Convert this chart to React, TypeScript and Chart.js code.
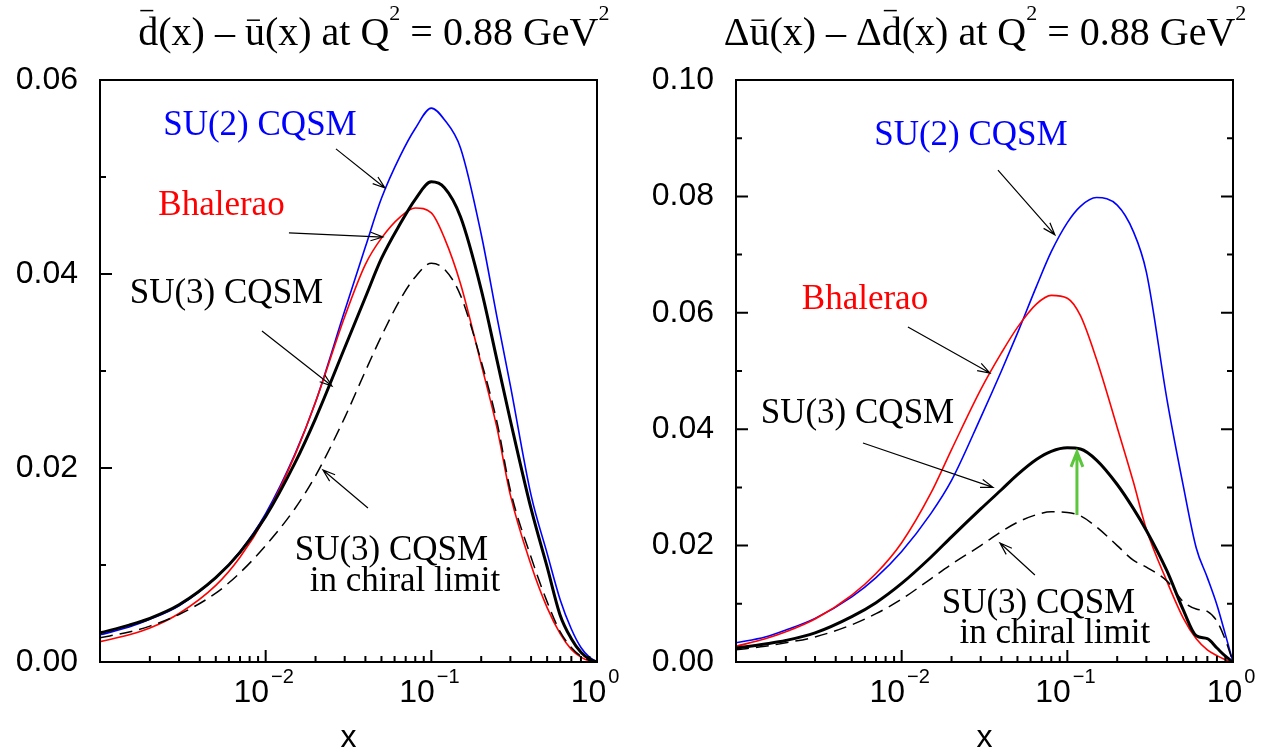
import React, { useEffect, useRef } from "react";
import { Chart, registerables } from "chart.js";

Chart.register(...registerables);

const SERIF = '"Liberation Serif", "Times New Roman", Times, serif';
const SANS = '"Liberation Sans", Arial, Helvetica, sans-serif';

// ---------- shared x grid ----------
const xValues = [
  0.001, 0.0015, 0.002, 0.003, 0.005, 0.007, 0.01, 0.015, 0.02, 0.03, 0.04, 0.05, 0.065,
  0.08, 0.1, 0.12, 0.15, 0.2, 0.25, 0.3, 0.4, 0.5, 0.6, 0.7, 0.8, 0.9, 1.0,
];

// ---------- left panel: dbar(x) - ubar(x) ----------
const leftSU2 = [
  0.0028, 0.0036, 0.0044, 0.0058, 0.0087, 0.0114, 0.0153, 0.0214, 0.0268, 0.0362, 0.0428, 0.0478, 0.0522,
  0.055, 0.0571, 0.0559, 0.053, 0.0441, 0.0354, 0.0285, 0.0172, 0.0112, 0.0064, 0.0034, 0.0015, 0.0005, 0,
];
const leftBhalerao = [
  0.0021, 0.0028, 0.0035, 0.005, 0.0079, 0.0108, 0.015, 0.0213, 0.0268, 0.0356, 0.041, 0.0437, 0.0459,
  0.0468, 0.0463, 0.0437, 0.039, 0.0307, 0.024, 0.0172, 0.01, 0.0056, 0.0029, 0.0013, 0.0005, 0.0001, 0,
];
const leftSU3 = [
  0.003, 0.0038, 0.0045, 0.0059, 0.0087, 0.0113, 0.015, 0.0205, 0.0251, 0.0324, 0.0376, 0.0416, 0.0452,
  0.0477, 0.0495, 0.0489, 0.0459, 0.0384, 0.031, 0.0249, 0.0158, 0.0098, 0.0048, 0.0024, 0.001, 0.0003, 0,
];
const leftSU3Chiral = [
  0.0025, 0.0031, 0.0037, 0.0049, 0.0071, 0.0092, 0.012, 0.0158, 0.0192, 0.0252, 0.03, 0.0336, 0.0374,
  0.0397, 0.0411, 0.0405, 0.0378, 0.031, 0.0246, 0.0177, 0.0108, 0.0062, 0.0031, 0.0015, 0.0006, 0.0002, 0,
];
const leftYTicks = [0, 0.02, 0.04, 0.06];

// ---------- right panel: Delta ubar(x) - Delta dbar(x) ----------
const rightSU2 = [
  0.0033, 0.0043, 0.0055, 0.0075, 0.0112, 0.0145, 0.019, 0.0255, 0.0312, 0.042, 0.05, 0.0565, 0.0645,
  0.0705, 0.0755, 0.0783, 0.0798, 0.0785, 0.074, 0.067, 0.045, 0.0304, 0.0196, 0.0145, 0.0098, 0.0047, 0,
];
const rightBhalerao = [
  0.0027, 0.004, 0.0052, 0.0074, 0.0115, 0.0152, 0.0205, 0.029, 0.0365, 0.0468, 0.0531, 0.0575, 0.0615,
  0.063, 0.0625, 0.0595, 0.052, 0.0403, 0.031, 0.0228, 0.0138, 0.0076, 0.004, 0.0021, 0.0011, 0.0004, 0,
];
const rightSU3 = [
  0.0024, 0.0031, 0.0037, 0.005, 0.0078, 0.0102, 0.0135, 0.018, 0.0215, 0.0263, 0.0296, 0.0322, 0.0348,
  0.0362, 0.0368, 0.0366, 0.0347, 0.0305, 0.0264, 0.0226, 0.0156, 0.009, 0.0045, 0.004, 0.0024, 0.001, 0,
];
const rightSU3Chiral = [
  0.0021, 0.0027, 0.0033, 0.0043, 0.0064, 0.0083, 0.0108, 0.0143, 0.0168, 0.02, 0.0224, 0.024, 0.0253,
  0.0258, 0.0257, 0.0251, 0.0232, 0.02, 0.0175, 0.0163, 0.0139, 0.0104, 0.0091, 0.0087, 0.007, 0.0038, 0,
];
const rightYTicks = [0, 0.02, 0.04, 0.06, 0.08, 0.1];

// ---------- x tick labels ----------
const xLabelValues = [0.01, 0.1, 1];
const xLabelExponents = ["\u22122", "\u22121", "0"];

// ---------- titles ----------
type Piece = { t: string; sup?: boolean; bar?: boolean };
const leftTitle: Piece[] = [
  { t: "d", bar: true },
  { t: "(x) \u2013 " },
  { t: "u", bar: true },
  { t: "(x) at Q" },
  { t: "2", sup: true },
  { t: " = 0.88 GeV" },
  { t: "2", sup: true },
];
const rightTitle: Piece[] = [
  { t: "\u0394" },
  { t: "u", bar: true },
  { t: "(x) \u2013 \u0394" },
  { t: "d", bar: true },
  { t: "(x) at Q" },
  { t: "2", sup: true },
  { t: " = 0.88 GeV" },
  { t: "2", sup: true },
];

// ---------- annotations (data coordinates) ----------
type Label = { text: string; color: string; x: number; y: number };
type Arrow = { from: [number, number]; to: [number, number]; color: string; width: number };

const leftLabels: Label[] = [
  { text: "SU(2) CQSM", color: "#0000ff", x: 0.00924, y: 0.0543 },
  { text: "Bhalerao", color: "#ff0000", x: 0.00541, y: 0.0461 },
  { text: "SU(3) CQSM", color: "#000000", x: 0.0058, y: 0.037 },
  { text: "SU(3) CQSM", color: "#000000", x: 0.05743, y: 0.01052 },
  { text: "in chiral limit", color: "#000000", x: 0.06931, y: 0.00732 },
];
const leftArrows: Arrow[] = [
  { from: [0.02656, 0.0529], to: [0.05248, 0.04887], color: "#000", width: 1.2 },
  { from: [0.01382, 0.04423], to: [0.05103, 0.04381], color: "#000", width: 1.2 },
  { from: [0.0095, 0.03412], to: [0.02513, 0.02845], color: "#000", width: 1.2 },
  { from: [0.04144, 0.01588], to: [0.02217, 0.01979], color: "#000", width: 1.2 },
];
const rightLabels: Label[] = [
  { text: "SU(2) CQSM", color: "#0000ff", x: 0.02619, y: 0.0888 },
  { text: "Bhalerao", color: "#ff0000", x: 0.006006, y: 0.0607 },
  { text: "SU(3) CQSM", color: "#000000", x: 0.00541, y: 0.04107 },
  { text: "SU(3) CQSM", color: "#000000", x: 0.06695, y: 0.00842 },
  { text: "in chiral limit", color: "#000000", x: 0.0841, y: 0.00326 },
];
const rightArrows: Arrow[] = [
  { from: [0.03813, 0.0845], to: [0.0841, 0.0734], color: "#000", width: 1.2 },
  { from: [0.01091, 0.05756], to: [0.0341, 0.04966], color: "#000", width: 1.2 },
  { from: [0.00584, 0.03763], to: [0.0356, 0.03], color: "#000", width: 1.2 },
  { from: [0.0637, 0.01495], to: [0.0392, 0.02045], color: "#000", width: 1.2 },
  { from: [0.1143, 0.02526], to: [0.1143, 0.03608], color: "#5cc63c", width: 3 },
];

type PanelCfg = {
  su2: number[];
  bhalerao: number[];
  su3: number[];
  su3chiral: number[];
  yTicks: number[];
  yMax: number;
  title: Piece[];
  titleFrac: number;
  rightTicks: boolean;
  labels: Label[];
  arrows: Arrow[];
  axisWidth: number;
  padRight: number;
};

function drawArrow(ctx: CanvasRenderingContext2D, x1: number, y1: number, x2: number, y2: number, color: string, width: number) {
  const ang = Math.atan2(y2 - y1, x2 - x1);
  const head = width > 2 ? 16 : 13;
  const spread = width > 2 ? 0.38 : 0.33;
  ctx.save();
  ctx.strokeStyle = color;
  ctx.lineWidth = width;
  ctx.lineCap = "butt";
  ctx.beginPath();
  ctx.moveTo(x1, y1);
  ctx.lineTo(x2, y2);
  ctx.moveTo(x2 - head * Math.cos(ang - spread), y2 - head * Math.sin(ang - spread));
  ctx.lineTo(x2, y2);
  ctx.lineTo(x2 - head * Math.cos(ang + spread), y2 - head * Math.sin(ang + spread));
  ctx.stroke();
  ctx.restore();
}

function drawTitle(ctx: CanvasRenderingContext2D, pieces: Piece[], cx: number, baseline: number, size: number) {
  const supSize = Math.round(size * 0.55);
  const fonts = pieces.map((p) => `${p.sup ? supSize : size}px ${SERIF}`);
  const widths = pieces.map((p, i) => {
    ctx.font = fonts[i];
    return ctx.measureText(p.t).width;
  });
  const total = widths.reduce((a, b) => a + b, 0);
  let x = cx - total / 2;
  ctx.save();
  ctx.fillStyle = "#000";
  ctx.textAlign = "left";
  ctx.textBaseline = "alphabetic";
  pieces.forEach((p, i) => {
    ctx.font = fonts[i];
    const y = p.sup ? baseline - size * 0.62 : baseline;
    ctx.fillText(p.t, x, y);
    if (p.bar) {
      const tall = p.t === "d";
      const by = baseline - (tall ? size * 0.86 : size * 0.62);
      ctx.strokeStyle = "#000";
      ctx.lineWidth = 1.5;
      ctx.beginPath();
      ctx.moveTo(x + widths[i] * 0.1, by);
      ctx.lineTo(x + widths[i] * 0.75, by);
      ctx.stroke();
    }
    x += widths[i];
  });
  ctx.restore();
}

function makeDecor(cfg: PanelCfg) {
  return {
    id: "decor",
    afterDraw(chart: any) {
      const ctx: CanvasRenderingContext2D = chart.ctx;
      const { left, right, top, bottom } = chart.chartArea;
      const xs = chart.scales.x;
      const ys = chart.scales.y;
      ctx.save();
      // frame
      ctx.strokeStyle = "#000";
      ctx.lineWidth = 2;
      ctx.strokeRect(left, top, right - left, bottom - top);

      // y ticks (minor every half major step)
      const majorStep = cfg.yTicks[1] - cfg.yTicks[0];
      const n = Math.round(cfg.yMax / (majorStep / 2));
      ctx.lineWidth = 2;
      ctx.beginPath();
      for (let i = 1; i < n; i++) {
        const v = (i * majorStep) / 2;
        const y = ys.getPixelForValue(v);
        const len = i % 2 === 0 ? 12 : 6;
        ctx.moveTo(left, y);
        ctx.lineTo(left + len, y);
        if (cfg.rightTicks) {
          ctx.moveTo(right, y);
          ctx.lineTo(right - len, y);
        }
      }
      // x ticks (log)
      for (let d = -3; d < 0; d++) {
        for (let k = 1; k <= 9; k++) {
          const v = k * Math.pow(10, d);
          if (v <= 0.001 + 1e-12) continue;
          const x = xs.getPixelForValue(v);
          const len = k === 1 ? 12 : 6;
          ctx.moveTo(x, bottom);
          ctx.lineTo(x, bottom - len);
        }
      }
      ctx.stroke();

      // x tick labels 10^n
      ctx.fillStyle = "#000";
      ctx.textBaseline = "alphabetic";
      xLabelValues.forEach((v, i) => {
        const x = xs.getPixelForValue(v);
        ctx.font = `32px ${SANS}`;
        const w1 = ctx.measureText("10").width;
        ctx.font = `20px ${SANS}`;
        const w2 = ctx.measureText(xLabelExponents[i]).width;
        const start = x - (w1 + w2 + 2) / 2 - 2;
        ctx.font = `32px ${SANS}`;
        ctx.textAlign = "left";
        ctx.fillText("10", start, bottom + 40);
        ctx.font = `20px ${SANS}`;
        ctx.fillText(xLabelExponents[i], start + w1 + 2, bottom + 21);
      });

      // axis title "x"
      ctx.font = `32px ${SANS}`;
      ctx.textAlign = "center";
      ctx.fillText("x", (left + right) / 2, bottom + 85);

      // title
      drawTitle(ctx, cfg.title, left + (right - left) * cfg.titleFrac, top - 35, 40);

      // labels
      ctx.font = `35px ${SERIF}`;
      ctx.textAlign = "center";
      cfg.labels.forEach((l) => {
        ctx.fillStyle = l.color;
        ctx.fillText(l.text, xs.getPixelForValue(l.x), ys.getPixelForValue(l.y));
      });
      // arrows
      cfg.arrows.forEach((a) => {
        drawArrow(
          ctx,
          xs.getPixelForValue(a.from[0]),
          ys.getPixelForValue(a.from[1]),
          xs.getPixelForValue(a.to[0]),
          ys.getPixelForValue(a.to[1]),
          a.color,
          a.width
        );
      });
      ctx.restore();
    },
  };
}

function toPoints(ys: number[]) {
  return xValues.map((x, i) => ({ x, y: ys[i] }));
}

function buildChart(canvas: HTMLCanvasElement, cfg: PanelCfg) {
  return new Chart(canvas, {
    type: "line",
    data: {
      datasets: [
        { label: "SU(3) CQSM", data: toPoints(cfg.su3), borderColor: "#000000", borderWidth: 3 },
        {
          label: "SU(3) CQSM chiral limit",
          data: toPoints(cfg.su3chiral),
          borderColor: "#000000",
          borderWidth: 1.5,
          borderDash: [13, 7],
        },
        { label: "Bhalerao", data: toPoints(cfg.bhalerao), borderColor: "#ff0000", borderWidth: 1.6 },
        { label: "SU(2) CQSM", data: toPoints(cfg.su2), borderColor: "#0000ff", borderWidth: 1.6 },
      ],
    },
    options: {
      responsive: false,
      animation: false,
      devicePixelRatio: 1,
      layout: { padding: { left: 0, right: cfg.padRight, top: 80, bottom: 90 } },
      elements: {
        point: { radius: 0 },
        line: { cubicInterpolationMode: "monotone", fill: false },
      },
      plugins: {
        legend: { display: false },
        tooltip: { enabled: false },
        title: { display: false },
      },
      scales: {
        x: { type: "logarithmic", min: 0.001, max: 1, display: false },
        y: {
          type: "linear",
          min: 0,
          max: cfg.yMax,
          afterFit: (s: any) => {
            s.width = cfg.axisWidth;
          },
          afterBuildTicks: (s: any) => {
            s.ticks = cfg.yTicks.map((v) => ({ value: v }));
          },
          ticks: {
            color: "#000",
            padding: 22,
            font: { family: SANS, size: 32 },
            callback: (v: any) => Number(v).toFixed(2),
          },
          grid: { display: false, drawTicks: false },
          border: { display: false },
        },
      },
    } as any,
    plugins: [makeDecor(cfg)],
  });
}

export default function App() {
  const leftRef = useRef<HTMLCanvasElement>(null);
  const rightRef = useRef<HTMLCanvasElement>(null);

  useEffect(() => {
    const c1 = buildChart(leftRef.current!, {
      su2: leftSU2,
      bhalerao: leftBhalerao,
      su3: leftSU3,
      su3chiral: leftSU3Chiral,
      yTicks: leftYTicks,
      yMax: 0.06,
      title: leftTitle,
      titleFrac: 0.551,
      rightTicks: false,
      labels: leftLabels,
      arrows: leftArrows,
      axisWidth: 100,
      padRight: 37,
    });
    const c2 = buildChart(rightRef.current!, {
      su2: rightSU2,
      bhalerao: rightBhalerao,
      su3: rightSU3,
      su3chiral: rightSU3Chiral,
      yTicks: rightYTicks,
      yMax: 0.1,
      title: rightTitle,
      titleFrac: 0.501,
      rightTicks: true,
      labels: rightLabels,
      arrows: rightArrows,
      axisWidth: 102,
      padRight: 35,
    });
    return () => {
      c1.destroy();
      c2.destroy();
    };
  }, []);

  return (
    <div style={{ position: "fixed", left: 0, top: 0, width: 1268, height: 752, background: "#ffffff" }}>
      <canvas ref={leftRef} width={634} height={752} style={{ position: "absolute", left: 0, top: 0 }} />
      <canvas ref={rightRef} width={634} height={752} style={{ position: "absolute", left: 634, top: 0 }} />
    </div>
  );
}
